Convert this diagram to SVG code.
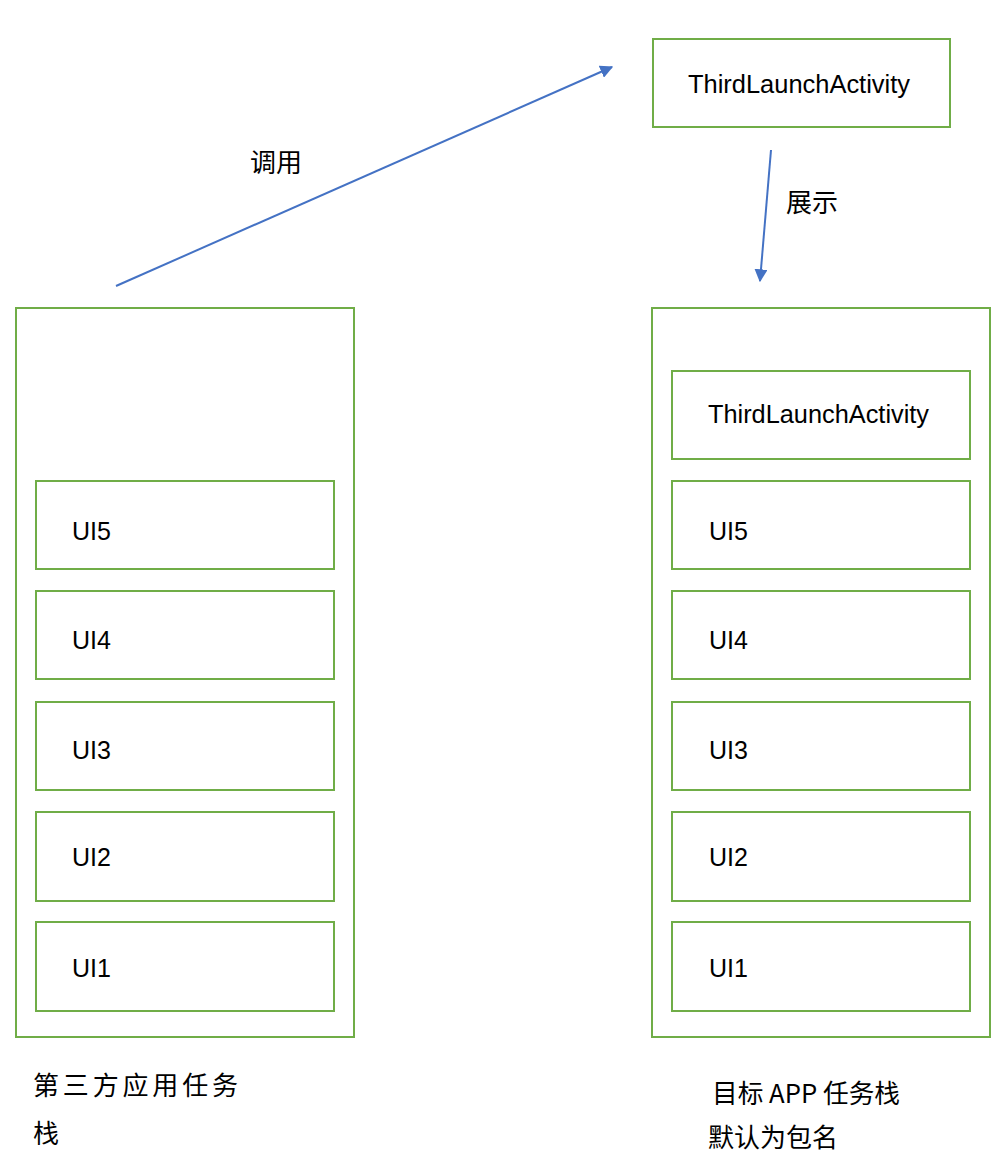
<svg xmlns="http://www.w3.org/2000/svg" width="1008" height="1176" viewBox="0 0 1008 1176">
<defs>
<style>
.box{fill:#fff;stroke:#70AD47;stroke-width:2}
.lbl{font-family:"Liberation Sans","Noto Sans",sans-serif;font-size:25px;fill:#000}
.cjk{font-family:"Noto Sans CJK SC","Noto Sans",sans-serif;font-size:26px;fill:#000}
.conn{stroke:#4472C4;stroke-width:2;fill:none}
</style>
<marker id="arr" viewBox="0 0 10 10" refX="9" refY="5" markerWidth="6.5" markerHeight="6.5" markerUnits="strokeWidth" orient="auto">
<path d="M0,0 L10,5 L0,10 z" fill="#4472C4"/>
</marker>
</defs>
<rect width="1008" height="1176" fill="#fff"/>

<g id="top-activity">
<rect class="box" x="653" y="39" width="297" height="88"/>
<text class="lbl" x="688" y="93" textLength="222" lengthAdjust="spacingAndGlyphs">ThirdLaunchActivity</text>
</g>

<g id="left-stack">
<rect class="box" x="16" y="308" width="338" height="729"/>
</g>
<g id="left-ui5"><rect class="box" x="36" y="481" width="298" height="88"/><text class="lbl" x="72" y="540">UI5</text></g>
<g id="left-ui4"><rect class="box" x="36" y="591" width="298" height="88"/><text class="lbl" x="72" y="649">UI4</text></g>
<g id="left-ui3"><rect class="box" x="36" y="702" width="298" height="88"/><text class="lbl" x="72" y="759">UI3</text></g>
<g id="left-ui2"><rect class="box" x="36" y="812" width="298" height="89"/><text class="lbl" x="72" y="866">UI2</text></g>
<g id="left-ui1"><rect class="box" x="36" y="922" width="298" height="89"/><text class="lbl" x="72" y="977">UI1</text></g>

<g id="right-stack">
<rect class="box" x="652" y="308" width="338" height="729"/>
</g>
<g id="right-activity"><rect class="box" x="672" y="371" width="298" height="88"/><text class="lbl" x="708" y="423" textLength="221" lengthAdjust="spacingAndGlyphs">ThirdLaunchActivity</text></g>
<g id="right-ui5"><rect class="box" x="672" y="481" width="298" height="88"/><text class="lbl" x="709" y="540">UI5</text></g>
<g id="right-ui4"><rect class="box" x="672" y="591" width="298" height="88"/><text class="lbl" x="709" y="649">UI4</text></g>
<g id="right-ui3"><rect class="box" x="672" y="702" width="298" height="88"/><text class="lbl" x="709" y="759">UI3</text></g>
<g id="right-ui2"><rect class="box" x="672" y="812" width="298" height="89"/><text class="lbl" x="709" y="866">UI2</text></g>
<g id="right-ui1"><rect class="box" x="672" y="922" width="298" height="89"/><text class="lbl" x="709" y="977">UI1</text></g>

<g id="connectors">
<line class="conn" x1="116" y1="286" x2="612" y2="67" marker-end="url(#arr)"/>
<line class="conn" x1="771" y1="150" x2="760" y2="281" marker-end="url(#arr)"/>
<text class="cjk" x="250" y="172">调用</text>
<text class="cjk" x="786" y="212">展示</text>
</g>

<g id="captions">
<text class="cjk" x="33" y="1095" textLength="205" lengthAdjust="spacing">第三方应用任务</text>
<text class="cjk" x="33" y="1143">栈</text>
<text class="cjk" x="712" y="1103" textLength="188" lengthAdjust="spacingAndGlyphs">目标 APP 任务栈</text>
<text class="cjk" x="708" y="1147" textLength="130" lengthAdjust="spacingAndGlyphs">默认为包名</text>
</g>
</svg>
